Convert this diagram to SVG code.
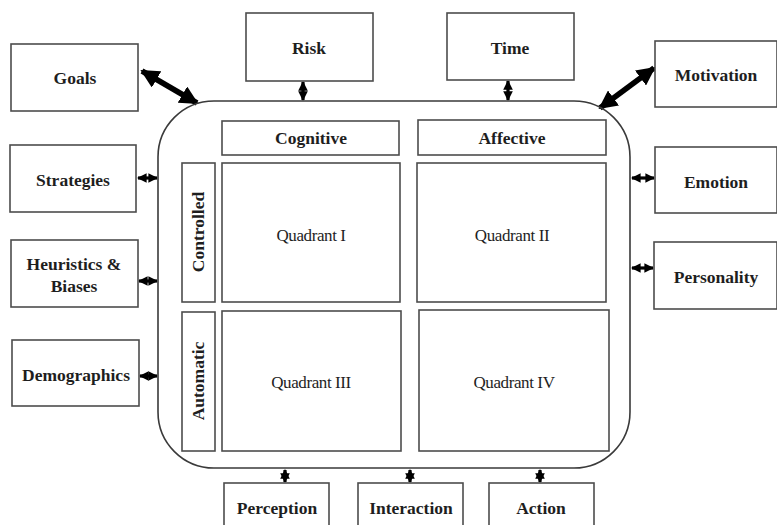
<svg xmlns="http://www.w3.org/2000/svg" width="777" height="525" viewBox="0 0 777 525">
<style>
.box{fill:#fff;stroke:#4d4d4d;stroke-width:1.6}
text{font-family:'Liberation Serif','Times New Roman','DejaVu Serif',serif}
.lbl{font-weight:bold;font-size:17.5px;fill:#1e1e1e;text-anchor:middle}
.q{font-size:17px;fill:#1e1e1e;text-anchor:middle;letter-spacing:-0.4px}
.thick{stroke:#000;stroke-width:5.5;fill:none}
.thin{stroke:#000;stroke-width:3.2;fill:none}
</style>
<defs>
<marker id="hb" viewBox="0 0 10 10" refX="9" refY="5" markerWidth="3.4" markerHeight="3.4" markerUnits="strokeWidth" orient="auto-start-reverse">
<path d="M0,0 L10,5 L0,10 z" fill="#000"/>
</marker>
<marker id="hs" viewBox="0 0 10 10" refX="9" refY="5" markerWidth="3" markerHeight="3" markerUnits="strokeWidth" orient="auto-start-reverse">
<path d="M0,0 L10,5 L0,10 z" fill="#000"/>
</marker>
</defs>
<rect width="777" height="525" fill="#fff"/>

<g id="connectors">
<line class="thick" x1="142" y1="71" x2="197" y2="103" marker-start="url(#hb)" marker-end="url(#hb)"/>
<line class="thick" x1="654" y1="68" x2="600" y2="108" marker-start="url(#hb)" marker-end="url(#hb)"/>
<line class="thin" x1="138" y1="178" x2="157" y2="178" marker-start="url(#hs)" marker-end="url(#hs)"/>
<line class="thin" x1="139" y1="281" x2="157" y2="281" marker-start="url(#hs)" marker-end="url(#hs)"/>
<line class="thin" x1="140" y1="376" x2="157" y2="376" marker-start="url(#hs)" marker-end="url(#hs)"/>
<line class="thin" x1="632" y1="178" x2="654" y2="178" marker-start="url(#hs)" marker-end="url(#hs)"/>
<line class="thin" x1="632" y1="268" x2="653" y2="268" marker-start="url(#hs)" marker-end="url(#hs)"/>
<line class="thin" x1="303" y1="82" x2="303" y2="100" marker-start="url(#hs)" marker-end="url(#hs)"/>
<line class="thin" x1="508" y1="81" x2="508" y2="100" marker-start="url(#hs)" marker-end="url(#hs)"/>
<line class="thin" x1="285" y1="470" x2="285" y2="482" marker-start="url(#hs)" marker-end="url(#hs)"/>
<line class="thin" x1="410" y1="470" x2="410" y2="482" marker-start="url(#hs)" marker-end="url(#hs)"/>
<line class="thin" x1="540" y1="470" x2="540" y2="482" marker-start="url(#hs)" marker-end="url(#hs)"/>
</g>

<g id="frame">
<rect x="158" y="101" width="472" height="367" rx="56" ry="56" fill="none" stroke="#3a3a3a" stroke-width="1.6"/>
</g>

<g id="goals"><rect class="box" x="11" y="44" width="127" height="67"/><text class="lbl" x="75" y="84">Goals</text></g>
<g id="strategies"><rect class="box" x="10" y="145" width="126" height="67"/><text class="lbl" x="73" y="186">Strategies</text></g>
<g id="heuristics"><rect class="box" x="11" y="240" width="127" height="67"/><text class="lbl" x="74" y="270">Heuristics &amp;</text><text class="lbl" x="74" y="292">Biases</text></g>
<g id="demographics"><rect class="box" x="12" y="340" width="127" height="66"/><text class="lbl" x="76" y="381">Demographics</text></g>
<g id="risk"><rect class="box" x="246" y="13" width="127" height="68"/><text class="lbl" x="309" y="54">Risk</text></g>
<g id="time"><rect class="box" x="447" y="13" width="127" height="67"/><text class="lbl" x="510" y="54">Time</text></g>
<g id="motivation"><rect class="box" x="655" y="41" width="122" height="66"/><text class="lbl" x="716" y="81">Motivation</text></g>
<g id="emotion"><rect class="box" x="655" y="147" width="122" height="66"/><text class="lbl" x="716" y="188">Emotion</text></g>
<g id="personality"><rect class="box" x="654" y="242" width="123" height="67"/><text class="lbl" x="716" y="283">Personality</text></g>
<g id="perception"><rect class="box" x="224" y="483" width="105" height="50"/><text class="lbl" x="277" y="514">Perception</text></g>
<g id="interaction"><rect class="box" x="358" y="483" width="105" height="50"/><text class="lbl" x="411" y="514">Interaction</text></g>
<g id="action"><rect class="box" x="489" y="483" width="105" height="50"/><text class="lbl" x="541" y="514">Action</text></g>

<g id="cognitive"><rect class="box" x="222" y="121" width="177" height="34"/><text class="lbl" x="311" y="144">Cognitive</text></g>
<g id="affective"><rect class="box" x="418" y="120" width="188" height="35"/><text class="lbl" x="512" y="144">Affective</text></g>
<g id="controlled"><rect class="box" x="182" y="163" width="33" height="139"/><text class="lbl" transform="translate(204,232) rotate(-90)">Controlled</text></g>
<g id="automatic"><rect class="box" x="182" y="312" width="33" height="139"/><text class="lbl" transform="translate(204,381) rotate(-90)">Automatic</text></g>
<g id="quadrant1"><rect class="box" x="222" y="163" width="178" height="139"/><text class="q" x="311" y="241">Quadrant I</text></g>
<g id="quadrant2"><rect class="box" x="417" y="163" width="189" height="139"/><text class="q" x="512" y="241">Quadrant II</text></g>
<g id="quadrant3"><rect class="box" x="222" y="311" width="179" height="140"/><text class="q" x="311" y="388">Quadrant III</text></g>
<g id="quadrant4"><rect class="box" x="419" y="310" width="190" height="141"/><text class="q" x="514" y="388">Quadrant IV</text></g>
</svg>
